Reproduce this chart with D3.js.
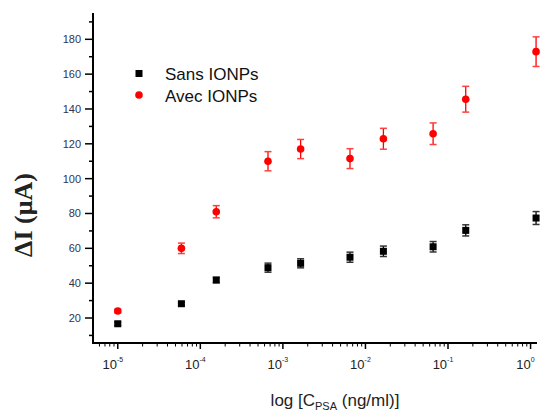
<!DOCTYPE html>
<html><head><meta charset="utf-8">
<script src="https://cdn.jsdelivr.net/npm/d3@7"></script>
<style>body{margin:0;background:#fff}</style>
</head><body>
<svg id="c" width="541" height="412"></svg>
<script>
const conc = [1e-5, 5.9e-5, 1.56e-4, 6.6e-4, 1.64e-3, 6.5e-3, 1.65e-2, 6.6e-2, 0.164, 1.166];
const sansVals = [16.7, 28.2, 41.8, 48.9, 51.4, 54.9, 58.3, 60.9, 70.3, 77.4];
const sansErr  = [1.0, 1.0, 1.5, 2.6, 2.6, 2.9, 3.0, 3.0, 3.2, 3.7];
const avecVals = [24.0, 60.0, 81.0, 110.0, 117.0, 111.5, 122.9, 125.8, 145.6, 172.9];
const avecErr  = [1.0, 3.0, 3.5, 5.5, 5.5, 5.7, 6.0, 6.2, 7.4, 8.5];
const seriesNames = ["Sans IONPs", "Avec IONPs"];
const yTicks = [20, 40, 60, 80, 100, 120, 140, 160, 180];
const xTickExps = [-5, -4, -3, -2, -1, 0];

const svg = d3.select("#c");
const x = d3.scaleLog().domain([Math.pow(10, -5.30), Math.pow(10, 0.078)]).range([93, 537]);
const y = d3.scaleLinear().domain([5.65, 195.1]).range([343, 13]);

// y axis
const yMinor = d3.range(10, 195, 20);
const yAx = svg.append("g").attr("transform", "translate(93,0)");
yAx.append("line").attr("x1", 0).attr("x2", 0).attr("y1", y.range()[1]).attr("y2", y.range()[0] + 1)
  .attr("stroke", "#000").attr("stroke-width", 2);
yAx.selectAll(".maj").data(yTicks).enter().append("line")
  .attr("x1", -8).attr("x2", 0).attr("y1", d => y(d)).attr("y2", d => y(d))
  .attr("stroke", "#000").attr("stroke-width", 1.5);
yAx.selectAll(".min").data(yMinor).enter().append("line")
  .attr("x1", -4).attr("x2", 0).attr("y1", d => y(d)).attr("y2", d => y(d))
  .attr("stroke", "#000").attr("stroke-width", 1.5);
yAx.selectAll(".lab").data(yTicks).enter().append("text")
  .attr("x", -12).attr("y", d => y(d)).attr("dy", "0.35em")
  .attr("text-anchor", "end").attr("font-family", "Arial, 'Liberation Sans', sans-serif")
  .attr("font-size", 11).attr("fill", "#33334a").text(d => d);

// x axis
const xAx = svg.append("g").attr("transform", "translate(0,343)");
xAx.append("line").attr("x1", 92).attr("x2", 537).attr("y1", 0).attr("y2", 0)
  .attr("stroke", "#000").attr("stroke-width", 2);
const xMinor = [];
for (let e = -6; e <= 0; e++) for (let m = 2; m <= 9; m++) {
  const v = m * Math.pow(10, e);
  if (v >= x.domain()[0] && v <= x.domain()[1]) xMinor.push(v);
}
xAx.selectAll(".min").data(xMinor).enter().append("line")
  .attr("x1", d => x(d)).attr("x2", d => x(d)).attr("y1", 0).attr("y2", 3.5)
  .attr("stroke", "#000").attr("stroke-width", 1);
xAx.selectAll(".maj").data(xTickExps).enter().append("line")
  .attr("x1", d => x(Math.pow(10, d))).attr("x2", d => x(Math.pow(10, d))).attr("y1", 0).attr("y2", 6)
  .attr("stroke", "#000").attr("stroke-width", 1.5);
const xl = xAx.selectAll(".lab").data(xTickExps).enter().append("text")
  .attr("x", d => x(Math.pow(10, d)) - 5).attr("y", 26)
  .attr("text-anchor", "middle").attr("font-family", "Arial, 'Liberation Sans', sans-serif")
  .attr("font-size", 13).attr("fill", "#222");
xl.append("tspan").text("10");
xl.append("tspan").attr("dy", -7).attr("font-size", 7).text(d => d);

// axis titles
svg.append("text").attr("transform", "translate(32,215) rotate(-90)")
  .attr("text-anchor", "middle").attr("font-family", "'Liberation Serif', 'Times New Roman', serif")
  .attr("font-weight", "bold").attr("font-size", 26).attr("fill", "#222")
  .text("ΔI (μA)");
const xt = svg.append("text").attr("x", 335).attr("y", 406).attr("text-anchor", "middle")
  .attr("font-family", "Arial, 'Liberation Sans', sans-serif").attr("font-size", 17).attr("fill", "#222");
xt.append("tspan").text("log [C");
xt.append("tspan").attr("dy", 4).attr("font-size", 11).text("PSA");
xt.append("tspan").attr("dy", -4).text(" (ng/ml)]");

// data
function drawSeries(vals, errs, color, capColor, shape) {
  const g = svg.append("g");
  const pts = conc.map((c, i) => ({c, v: vals[i], e: errs[i]}));
  g.selectAll(".eb").data(pts).enter().append("line")
    .attr("x1", d => x(d.c)).attr("x2", d => x(d.c))
    .attr("y1", d => y(d.v + d.e)).attr("y2", d => y(d.v - d.e))
    .attr("stroke", color).attr("stroke-width", 1.3);
  [1, -1].forEach(s => {
    g.selectAll(".cap" + s).data(pts).enter().append("line")
      .attr("x1", d => x(d.c) - 3.5).attr("x2", d => x(d.c) + 3.5)
      .attr("y1", d => y(d.v + s * d.e)).attr("y2", d => y(d.v + s * d.e))
      .attr("stroke", capColor).attr("stroke-width", 1.5);
  });
  if (shape === "square") {
    g.selectAll(".pt").data(pts).enter().append("rect")
      .attr("x", d => x(d.c) - 3.5).attr("y", d => y(d.v) - 3.5)
      .attr("width", 7).attr("height", 7).attr("fill", color);
  } else {
    g.selectAll(".pt").data(pts).enter().append("circle")
      .attr("cx", d => x(d.c)).attr("cy", d => y(d.v)).attr("r", 3.8).attr("fill", color);
  }
}
drawSeries(sansVals, sansErr, "#000", "#333", "square");
drawSeries(avecVals, avecErr, "#ff0000", "#ff4040", "circle");

// legend
const lg = svg.append("g").attr("font-family", "Arial, 'Liberation Sans', sans-serif").attr("font-size", 17).attr("fill", "#111");
lg.append("rect").attr("x", 135.5).attr("y", 70).attr("width", 7).attr("height", 7).attr("fill", "#000");
lg.append("circle").attr("cx", 139).attr("cy", 95).attr("r", 3.8).attr("fill", "#ff0000");
lg.append("text").attr("x", 165).attr("y", 74).attr("dy", "0.35em").text(seriesNames[0]);
lg.append("text").attr("x", 165).attr("y", 96).attr("dy", "0.35em").text(seriesNames[1]);
</script>
</body></html>
